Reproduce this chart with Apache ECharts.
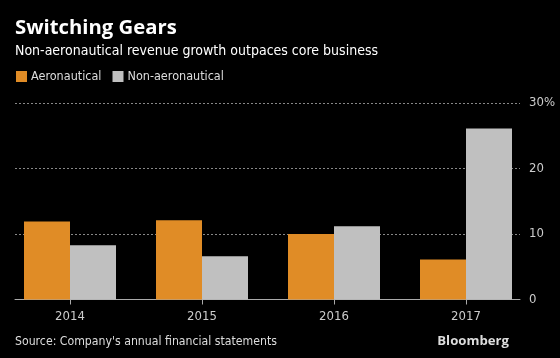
<!DOCTYPE html>
<html><head><meta charset="utf-8">
<script src="https://cdn.jsdelivr.net/npm/echarts@6/dist/echarts.min.js"></script>
<style>html,body{margin:0;padding:0;background:#000;}#c{width:560px;height:358px;}</style>
</head><body><div id="c"></div>
<script>
const categories = ['2014', '2015', '2016', '2017'];
const aeronautical = [11.9, 12.1, 10.0, 6.1];
const nonAeronautical = [8.3, 6.6, 11.2, 26.1];
const yTicks = [0, 10, 20, 30];

const FONT = '"DejaVu Sans Condensed", "Open Sans", sans-serif';
const BOLD = '"Open Sans", "Noto Sans", sans-serif';
const chart = echarts.init(document.getElementById('c'));
chart.setOption({
  backgroundColor: '#000',
  animation: false,
  title: [
    {text: 'Switching Gears', left: 10, top: 13, textStyle: {color: '#fff', fontSize: 20.3, fontWeight: 'bold', fontFamily: BOLD}},
    {text: 'Non-aeronautical revenue growth outpaces core business', left: 10, top: 39, textStyle: {color: '#fff', fontSize: 14, fontWeight: 'normal', fontFamily: FONT}},
    {text: "Source: Company's annual financial statements", left: 10, top: 331, textStyle: {color: '#ddd', fontSize: 12.2, fontWeight: 'normal', fontFamily: FONT}},
    {text: 'Bloomberg', right: 46, top: 330, textStyle: {color: '#ddd', fontSize: 13.2, fontWeight: 'bold', fontFamily: BOLD}}
  ],
  legend: {
    left: 11, top: 65, itemWidth: 11, itemHeight: 11, itemGap: 11, icon: 'rect',
    textStyle: {color: '#ddd', fontSize: 12.5, fontFamily: FONT, padding: [0, 0, 0, -1]},
    data: ['Aeronautical', 'Non-aeronautical']
  },
  grid: [
    {left: 4, right: 28, top: 103, bottom: 58.5},
    {left: 15, right: 40, top: 103, bottom: 58.5}
  ],
  xAxis: [
    {
      type: 'category', data: categories, gridIndex: 0,
      axisLine: {show: false},
      axisTick: {show: true, alignWithLabel: true, length: 5, lineStyle: {color: '#aaa'}},
      axisLabel: {color: '#ccc', fontSize: 13, fontFamily: FONT, margin: 11}
    },
    {
      type: 'category', data: categories, gridIndex: 1,
      axisLine: {show: true, lineStyle: {color: '#aaa', width: 1}},
      axisTick: {show: false}, axisLabel: {show: false}
    }
  ],
  yAxis: [
    {
      type: 'value', gridIndex: 0, position: 'right', min: 0, max: 30, interval: 10,
      axisLine: {show: false}, axisTick: {show: false},
      axisLabel: {color: '#ccc', fontSize: 13, fontFamily: FONT, margin: -3,
        formatter: v => (v === yTicks[yTicks.length - 1] ? v + '%' : String(v))},
      splitLine: {show: false}
    },
    {
      type: 'value', gridIndex: 1, position: 'right', min: 0, max: 30, interval: 10,
      axisLine: {show: false}, axisTick: {show: false}, axisLabel: {show: false},
      splitLine: {show: true, lineStyle: {color: '#888', type: [2, 2], width: 1}}
    }
  ],
  series: [
    {name: 'Aeronautical', type: 'bar', data: aeronautical, barWidth: 46, barGap: '0%', itemStyle: {color: '#e08c26'}, z: 3},
    {name: 'Non-aeronautical', type: 'bar', data: nonAeronautical, barWidth: 46, barGap: '0%', itemStyle: {color: '#c0c0c0'}, z: 3}
  ]
});
</script></body></html>
